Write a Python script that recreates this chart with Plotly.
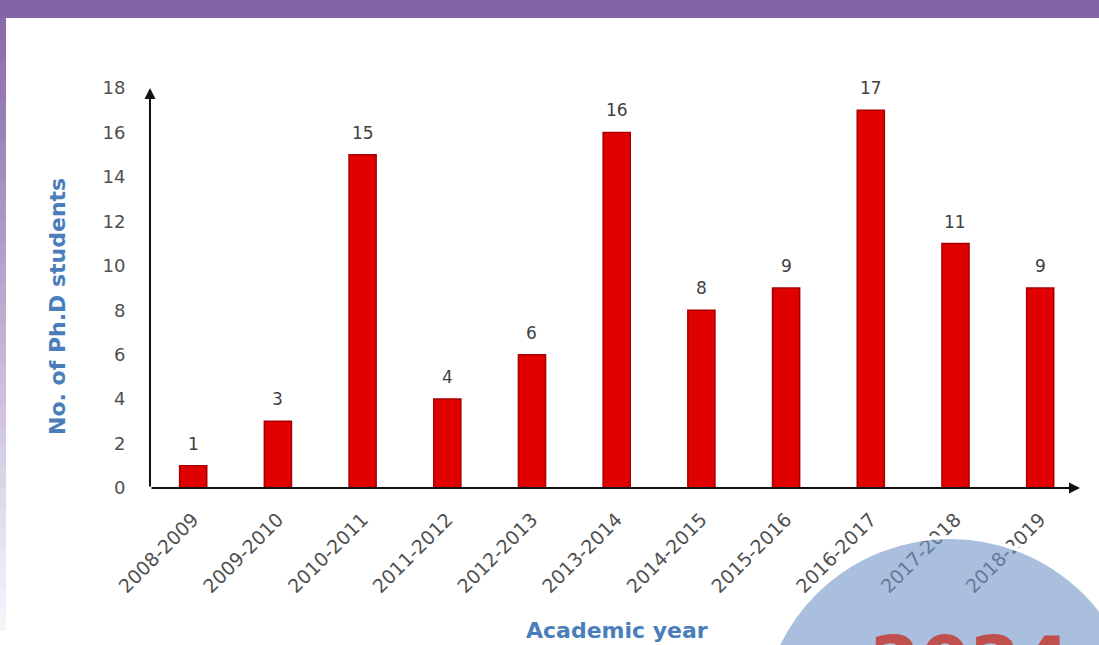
import plotly.graph_objects as go

years = ["2008-2009", "2009-2010", "2010-2011", "2011-2012", "2012-2013", "2013-2014",
         "2014-2015", "2015-2016", "2016-2017", "2017-2018", "2018-2019"]
students = [1, 3, 15, 4, 6, 16, 8, 9, 17, 11, 9]
y_ticks = [0, 2, 4, 6, 8, 10, 12, 14, 16, 18]

W, H = 1099, 645
L, R, T, B = 150, 19, 88, 157
PW, PH = W - L - R, H - T - B
FONT = "DejaVu Sans"


def px(x):
    return (x - L) / PW


def py(y):
    return (H - B - y) / PH


fig = go.Figure()
fig.add_trace(go.Bar(
    x=years, y=students, width=0.32,
    marker=dict(color="#e00000", line=dict(color="#a80000", width=1.5)),
    hoverinfo="skip",
))

annotations = []
for yr, v in zip(years, students):
    annotations.append(dict(x=yr, y=v, xref="x", yref="y", text=str(v), showarrow=False,
                            yanchor="bottom", yshift=10,
                            font=dict(family=FONT, size=17, color="#404040")))

# axis arrows
annotations.append(dict(xref="paper", yref="paper", x=0, y=1, axref="pixel", ayref="pixel",
                        ax=0, ay=PH, showarrow=True, arrowhead=2, arrowsize=1.1,
                        arrowwidth=2, arrowcolor="#111111", text=""))
annotations.append(dict(xref="paper", yref="paper", x=1, y=0, axref="pixel", ayref="pixel",
                        ax=-PW, ay=0, showarrow=True, arrowhead=2, arrowsize=1.1,
                        arrowwidth=2, arrowcolor="#111111", text=""))

# axis titles
annotations.append(dict(xref="paper", yref="paper", x=px(57), y=py(307), xanchor="center",
                        yanchor="middle", text="<b>No. of Ph.D students</b>",
                        textangle=-90, showarrow=False,
                        font=dict(family=FONT, size=22, color="#4a7ebb")))
annotations.append(dict(xref="paper", yref="paper", x=px(617), y=py(630), xanchor="center",
                        yanchor="middle", text="<b>Academic year</b>",
                        showarrow=False,
                        font=dict(family=FONT, size=22, color="#4a7ebb")))

# big red text in circle
annotations.append(dict(xref="paper", yref="paper", x=px(970), y=py(618), xanchor="center",
                        yanchor="top", text="<b>2024</b>", showarrow=False,
                        font=dict(family=FONT, size=72, color="#c0504d")))

shapes = []
# top band
shapes.append(dict(type="rect", xref="paper", yref="paper", x0=px(-5), x1=px(W + 5),
                   y0=py(18), y1=py(-5), fillcolor="#8264a4", line=dict(width=0), layer="above"))
# left gradient strip
n = 30
top_c = (138, 106, 170)
bot_c = (246, 244, 251)
y_start, y_end = 18, 630
for i in range(n):
    t = i / (n - 1)
    c = tuple(int(round(top_c[k] + (bot_c[k] - top_c[k]) * t)) for k in range(3))
    ya = y_start + (y_end - y_start) * i / n
    yb = y_start + (y_end - y_start) * (i + 1) / n + 1
    shapes.append(dict(type="rect", xref="paper", yref="paper", x0=px(0), x1=px(6),
                       y0=py(yb), y1=py(ya), fillcolor="rgb(%d,%d,%d)" % c,
                       line=dict(width=0), layer="above"))

# circle
cx, cy, r = 950, 728, 191
shapes.append(dict(type="circle", xref="paper", yref="paper",
                   x0=px(cx - r), x1=px(cx + r), y0=py(cy + r), y1=py(cy - r),
                   fillcolor="rgba(112,148,198,0.6)", line=dict(color="white", width=4),
                   layer="above"))

fig.update_layout(
    width=W, height=H,
    margin=dict(l=L, r=R, t=T, b=B, autoexpand=False),
    paper_bgcolor="white", plot_bgcolor="white",
    showlegend=False,
    annotations=annotations,
    shapes=shapes,
    xaxis=dict(range=[-0.51, 10.47], showgrid=False, zeroline=False, showline=False,
               tickangle=-45, ticks="outside", ticklen=12, tickcolor="rgba(0,0,0,0)",
               tickfont=dict(family=FONT, size=19, color="#505050"), fixedrange=True),
    yaxis=dict(range=[0, 18], tickvals=y_ticks, showgrid=False, zeroline=False, showline=False,
               ticks="outside", ticklen=20, tickcolor="rgba(0,0,0,0)",
               tickfont=dict(family=FONT, size=18, color="#505050"), fixedrange=True),
)

fig.write_html("out.html", config={"displayModeBar": False},
               post_script="document.body.style.margin='0';document.body.style.overflow='hidden';")
